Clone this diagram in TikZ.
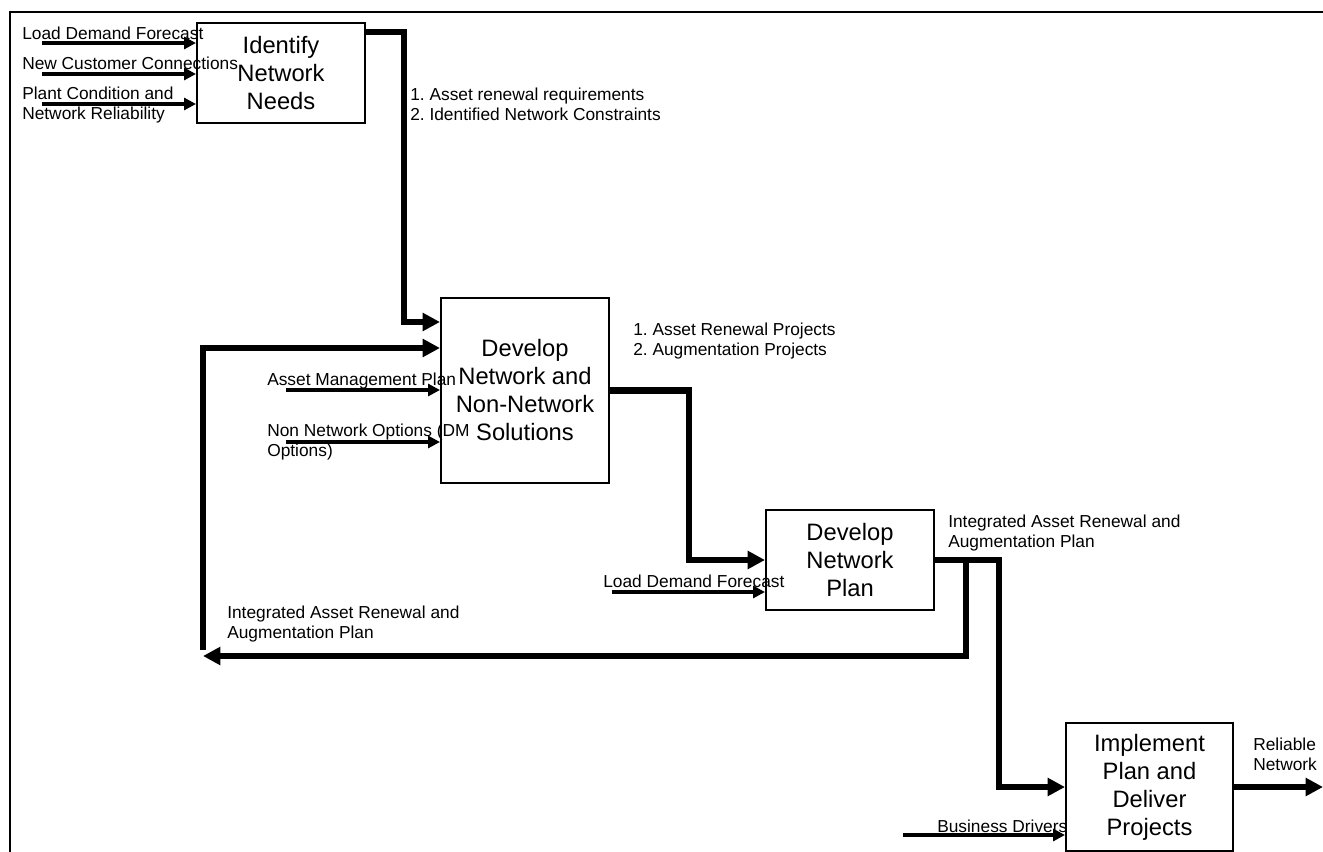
\documentclass[tikz,border=0pt]{standalone}
\usepackage{fontspec}
\setmainfont{Liberation Sans}
\usetikzlibrary{arrows.meta,calc}
\frenchspacing
\tikzset{
  procbox/.style={draw,line width=1.5pt,inner sep=0pt,align=center,
    font=\fontsize{17.8}{21}\selectfont},
  flow/.style={line width=4.8pt,-{Triangle[length=13pt,width=13pt]}},
  feed/.style={line width=2.3pt,-{Triangle[length=9pt,width=9pt]}},
  lbl/.style={anchor=base west,inner sep=0pt,align=left,
    font=\fontsize{13}{15}\selectfont}
}
\begin{document}
\begin{tikzpicture}[x=0.75pt,y=-0.75pt]
\useasboundingbox (0,0) rectangle (1323,852);
% frame
\draw[line width=2pt] (10,860) -- (10,12) -- (1330,12);
% process boxes
\node[procbox,minimum width=126pt,minimum height=75pt] (needs) at (281,73) {Identify\\Network\\Needs};
\node[procbox,minimum width=126pt,minimum height=138.75pt] (solutions) at (525,390.5) {Develop\\Network and\\Non-Network\\Solutions};
\node[procbox,minimum width=126pt,minimum height=75pt] (plan) at (850,560) {Develop\\Network\\Plan};
\node[procbox,minimum width=125.25pt,minimum height=96pt] (implement) at (1149.5,787) {Implement\\Plan and\\Deliver\\Projects};
% free ends
\coordinate (ldf) at (42,43);
\coordinate (ncc) at (42,74);
\coordinate (pcr) at (42,104);
\coordinate (amp) at (286,390);
\coordinate (nno) at (286,442);
\coordinate (ldfb) at (612,592);
\coordinate (bdr) at (903,835);
\coordinate (fbleft) at (203,656);
\coordinate (netout) at (1323,787);
% main flow
\draw[flow] ($(needs.north east)+(0,10)$) -- ++(38,0) |- ($(solutions.north west)+(0,25)$);
\draw[flow] (solutions.east) -- ++(79,0) |- (plan.west);
\draw[flow] (plan.east) -- ++(64,0) |- (implement.west);
\draw[flow] (implement.east) -- (netout);
% feedback
\draw[flow] ($(plan.east)+(31,0)$) |- (fbleft);
\draw[flow] ($(fbleft)+(0,-6)$) |- ($(solutions.north west)+(0,51)$);
% inputs
\draw[feed] (ldf) -- (ldf -| needs.west);
\draw[feed] (ncc) -- (ncc -| needs.west);
\draw[feed] (pcr) -- (pcr -| needs.west);
\draw[feed] (amp) -- (amp -| solutions.west);
\draw[feed] (nno) -- (nno -| solutions.west);
\draw[feed] (ldfb) -- (ldfb -| plan.west);
\draw[feed] (bdr) -- (bdr -| implement.west);
% labels (base of last line)
\node[lbl] (l1) at (22,40) {Load Demand Forecast};
\node[lbl] (l2) at (22,70) {New Customer Connections};
\node[lbl] (l3) at (22,120) {Plant Condition and\\Network Reliability};
\node[lbl] (l4) at (410,121) {1. Asset renewal requirements\\2. Identified Network Constraints};
\node[lbl] (l5) at (267,385) {Asset Management Plan};
\node[lbl] (l6) at (267,456) {Non Network Options (DM\\Options)};
\node[lbl] (l7) at (633,355) {1. Asset Renewal Projects\\2. Augmentation Projects};
\node[lbl] (l8) at (603,587) {Load Demand Forecast};
\node[lbl] (l9) at (948,547) {Integrated Asset Renewal and\\Augmentation Plan};
\node[lbl] (l10) at (227,638) {Integrated Asset Renewal and\\Augmentation Plan};
\node[lbl] (l11) at (1253,770) {Reliable\\Network};
\node[lbl] (l12) at (937,832) {Business Drivers};
\end{tikzpicture}
\end{document}
